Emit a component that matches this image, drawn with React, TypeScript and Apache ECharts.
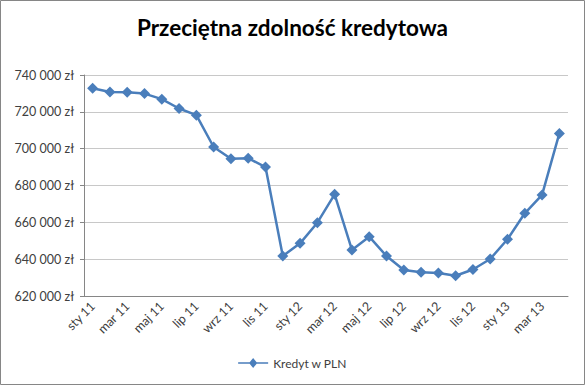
import React, { useEffect, useRef } from "react";
import * as echarts from "echarts";

const months = ["sty", "lut", "mar", "kwi", "maj", "cze", "lip", "sie", "wrz", "paź", "lis", "gru"];
const years = ["11", "12", "13"];
const categories: string[] = [];
for (let y = 0; y < years.length; y++) {
  for (let m = 0; m < 12; m++) {
    if (categories.length < 28) categories.push(months[m] + " " + years[y]);
  }
}
const seriesName = "Kredyt w PLN";
const values = [
  732800, 730800, 730600, 729900, 726900, 721800, 718200, 700900, 694500, 694800,
  690000, 641700, 648600, 659800, 675200, 645000, 652200, 641700, 634100, 632900,
  632500, 631000, 634400, 640100, 650800, 664900, 674900, 708300,
];
const yMin = 620000;
const yMax = 740000;
const yStep = 20000;

const fmt = (v: number) => {
  const s = String(Math.round(v));
  return s.replace(/\B(?=(\d{3})+(?!\d))/g, " ") + " zł";
};

export default function App() {
  const ref = useRef<HTMLDivElement>(null);
  useEffect(() => {
    if (!ref.current) return;
    const chart = echarts.init(ref.current, undefined, { renderer: "svg" });
    const font = "Lato, 'Open Sans', sans-serif";
    chart.setOption({
      animation: false,
      backgroundColor: "#ffffff",
      title: {
        text: "Przeciętna zdolność kredytowa",
        left: "center",
        top: 11,
        textStyle: { fontFamily: font, fontSize: 22.5, fontWeight: "bold", color: "#000" },
      },
      legend: {
        bottom: 11,
        left: "center",
        itemWidth: 30,
        itemHeight: 10,
        data: [{ name: seriesName, icon: "path://M0,4.2 L11.5,4.2 L15,0 L18.5,4.2 L30,4.2 L30,5.8 L18.5,5.8 L15,10 L11.5,5.8 L0,5.8 Z" }],
        textStyle: { fontFamily: font, fontSize: 12, color: "#404040" },
        itemGap: 2,
      },
      grid: { left: 84, right: 17, top: 75, bottom: 89 },
      xAxis: {
        type: "category",
        data: categories,
        boundaryGap: true,
        axisLine: { lineStyle: { color: "#868686" } },
        axisTick: { interval: 1, length: 5, lineStyle: { color: "#868686" } },
        axisLabel: {
          interval: 1,
          rotate: 45,
          fontFamily: font,
          fontSize: 12.5,
          color: "#404040",
          margin: 8,
        },
      },
      yAxis: {
        type: "value",
        min: yMin,
        max: yMax,
        interval: yStep,
        axisLine: { show: true, lineStyle: { color: "#868686" } },
        axisTick: { show: true, length: 4, lineStyle: { color: "#868686" } },
        splitLine: { lineStyle: { color: "#c8c8c8", width: 1 } },
        axisLabel: {
          formatter: fmt,
          fontFamily: font,
          fontSize: 12.5,
          color: "#404040",
          margin: 10,
        },
      },
      series: [
        {
          name: seriesName,
          type: "line",
          data: values,
          symbol: "diamond",
          symbolSize: 11,
          itemStyle: { color: "#4a7ebb" },
          lineStyle: { color: "#4a7ebb", width: 2.5 },
        },
      ],
      graphic: [
        {
          type: "rect",
          shape: { x: 0.5, y: 0.5, width: 584, height: 384 },
          style: { fill: "none", stroke: "#868686", lineWidth: 1 },
          silent: true,
        },
      ],
    });
    return () => chart.dispose();
  }, []);
  return (
    <div
      ref={ref}
      style={{ position: "fixed", left: 0, top: 0, width: 585, height: 385 }}
    />
  );
}
